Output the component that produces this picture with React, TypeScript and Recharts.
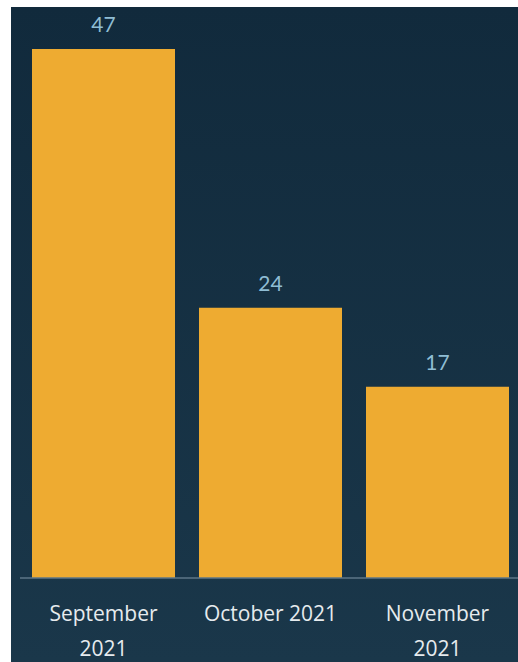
import { BarChart, Bar, XAxis, YAxis, LabelList } from "recharts";

const months = ["September 2021", "October 2021", "November 2021"];
const counts = [47, 24, 17];

const data = months.map((month, i) => ({ month, count: counts[i] }));

const MonthTick = (props: any) => {
  const { x, y, payload } = props;
  const text: string = payload.value;
  const lines = text.length > 12 ? text.split(" ") : [text];
  return (
    <text
      x={x}
      y={y}
      textAnchor="middle"
      fill="#e6ebee"
      fontSize={21}
      fontFamily="'Open Sans', sans-serif"
    >
      {lines.map((line, i) => (
        <tspan key={i} x={x} dy={i === 0 ? 35 : 35}>
          {line}
        </tspan>
      ))}
    </text>
  );
};

const App = () => {
  return (
    <div
      style={{
        position: "absolute",
        left: 11,
        top: 7,
        width: 507,
        height: 655,
        overflow: "hidden",
        background: "linear-gradient(#112a3c, #1a374a)",
      }}
    >
      <BarChart
        width={510}
        height={655}
        data={data}
        margin={{ top: 42, right: 0, bottom: 0, left: 9 }}
        barCategoryGap={12}
      >
        <XAxis
          dataKey="month"
          tick={<MonthTick />}
          tickLine={false}
          axisLine={{ stroke: "#5d7687", strokeWidth: 1.5 }}
          height={84}
          interval={0}
        />
        <YAxis hide domain={[0, "dataMax"]} />
        <Bar dataKey="count" fill="#eeab31" isAnimationActive={false}>
          <LabelList
            dataKey="count"
            position="top"
            offset={17}
            fill="#8fbdd4"
            fontSize={21}
            fontFamily="Lato, sans-serif"
            fontWeight={400}
          />
        </Bar>
      </BarChart>
    </div>
  );
};

export default App;
